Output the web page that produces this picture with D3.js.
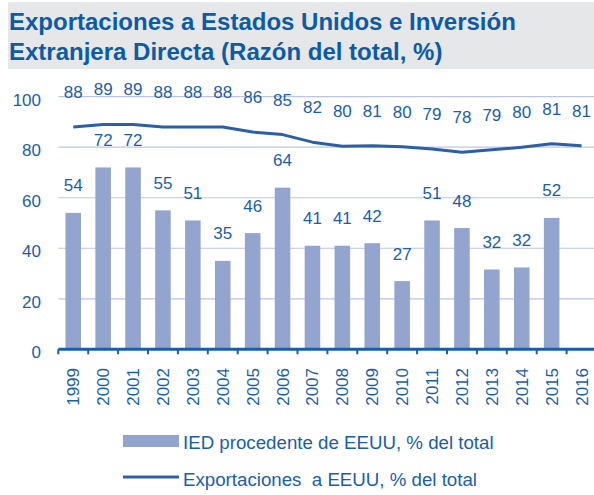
<!DOCTYPE html>
<html>
<head>
<meta charset="utf-8">
<script src="https://cdn.jsdelivr.net/npm/d3@7"></script>
<style>
  body { margin: 0; background: #fff; }
  svg { display: block; font-family: "Liberation Sans", Arial, sans-serif; }
</style>
</head>
<body>
<div id="chart"></div>
<script>
const years = ["1999","2000","2001","2002","2003","2004","2005","2006","2007","2008","2009","2010","2011","2012","2013","2014","2015","2016"];
const iedValues = [54, 72, 72, 55, 51, 35, 46, 64, 41, 41, 42, 27, 51, 48, 31.6, 32.4, 52, null];
const exportValues = [88, 89, 89, 88, 88, 88, 86, 85, 82, 80.4, 80.6, 80.2, 79.3, 78, 79, 80, 81.4, 80.6];
const yTicks = [0, 20, 40, 60, 80, 100];
const titleLines = ["Exportaciones a Estados Unidos e Inversión", "Extranjera Directa (Razón del total, %)"];
const legendLabels = ["IED procedente de EEUU, % del total", "Exportaciones  a EEUU, % del total"];

const W = 594, H = 495;
const textBlue = "#1a5ea8";
const barColor = "#93a4cf";
const lineColor = "#2c5fa5";
const gridColor = "#bcc5e4";

const svg = d3.select("#chart").append("svg")
  .attr("width", W).attr("height", H);

// title band
svg.append("rect")
  .attr("x", 8).attr("y", 2).attr("width", W - 8).attr("height", 67)
  .attr("fill", "#e6e7e9");

svg.append("g").selectAll("text")
  .data(titleLines)
  .join("text")
  .attr("x", 9)
  .attr("y", (d, i) => 30 + i * 30)
  .attr("fill", "#0d5aa5")
  .attr("font-size", 24)
  .attr("font-weight", "bold")
  .text(d => d);

const left = 58.3, right = 596.5;
const x = d3.scaleBand().domain(years).range([left, right])
  .paddingInner(0.48).paddingOuter(0.24);
const y = d3.scaleLinear().domain([0, 100]).range([349.3, 96.7]);
const step = x.step();
const cx = d => x(d) + x.bandwidth() / 2;

// grid
svg.append("g").selectAll("line")
  .data(yTicks.filter(t => t > 0))
  .join("line")
  .attr("x1", left).attr("x2", W)
  .attr("y1", d => y(d)).attr("y2", d => y(d))
  .attr("stroke", gridColor).attr("stroke-width", 1.2);

// y labels
svg.append("g").selectAll("text")
  .data(yTicks)
  .join("text")
  .attr("x", 41)
  .attr("y", d => y(d) + 9)
  .attr("text-anchor", "end")
  .attr("fill", textBlue)
  .attr("font-size", 17)
  .text(d => d);

// bars
const barData = years.map((yr, i) => ({ yr, v: iedValues[i] })).filter(d => d.v != null);
svg.append("g").selectAll("rect")
  .data(barData)
  .join("rect")
  .attr("x", d => x(d.yr))
  .attr("width", x.bandwidth())
  .attr("y", d => y(d.v))
  .attr("height", d => y(0) - y(d.v))
  .attr("fill", barColor);

svg.append("g").selectAll("text")
  .data(barData)
  .join("text")
  .attr("x", d => cx(d.yr))
  .attr("y", d => y(d.v) - 21.5)
  .attr("text-anchor", "middle")
  .attr("fill", textBlue)
  .attr("font-size", 17)
  .text(d => Math.round(d.v));

// line
const lineData = years.map((yr, i) => ({ yr, v: exportValues[i] }));
svg.append("path")
  .datum(lineData)
  .attr("fill", "none")
  .attr("stroke", lineColor)
  .attr("stroke-width", 3)
  .attr("stroke-linejoin", "round")
  .attr("d", d3.line().x(d => cx(d.yr)).y(d => y(d.v)));

svg.append("g").selectAll("text")
  .data(lineData)
  .join("text")
  .attr("x", d => cx(d.yr))
  .attr("y", d => y(d.v) - 29)
  .attr("text-anchor", "middle")
  .attr("fill", textBlue)
  .attr("font-size", 17)
  .text(d => Math.round(d.v));

// x axis
const axisG = svg.append("g");
axisG.append("line")
  .attr("x1", left).attr("x2", W)
  .attr("y1", y(0)).attr("y2", y(0))
  .attr("stroke", "#1a5ea8").attr("stroke-width", 3);
axisG.selectAll("line.tick")
  .data(d3.range(years.length + 1))
  .join("line")
  .attr("class", "tick")
  .attr("x1", i => left + i * step).attr("x2", i => left + i * step)
  .attr("y1", y(0)).attr("y2", y(0) + 5)
  .attr("stroke", "#1a5ea8").attr("stroke-width", 2);
axisG.selectAll("text")
  .data(years)
  .join("text")
  .attr("transform", d => `translate(${cx(d) + 6},368)rotate(-90)`)
  .attr("text-anchor", "end")
  .attr("fill", textBlue)
  .attr("font-size", 17)
  .text(d => d);

// legend
const lg = svg.append("g");
lg.append("rect")
  .attr("x", 123).attr("y", 435).attr("width", 56).attr("height", 12)
  .attr("fill", barColor);
lg.append("line")
  .attr("x1", 123).attr("x2", 179).attr("y1", 477).attr("y2", 477)
  .attr("stroke", lineColor).attr("stroke-width", 3);
lg.selectAll("text")
  .data(legendLabels)
  .join("text")
  .attr("x", 183)
  .attr("y", (d, i) => 449 + i * 37)
  .attr("fill", textBlue)
  .attr("font-size", 18.7)
  .style("white-space", "pre")
  .text(d => d);
</script>
</body>
</html>
